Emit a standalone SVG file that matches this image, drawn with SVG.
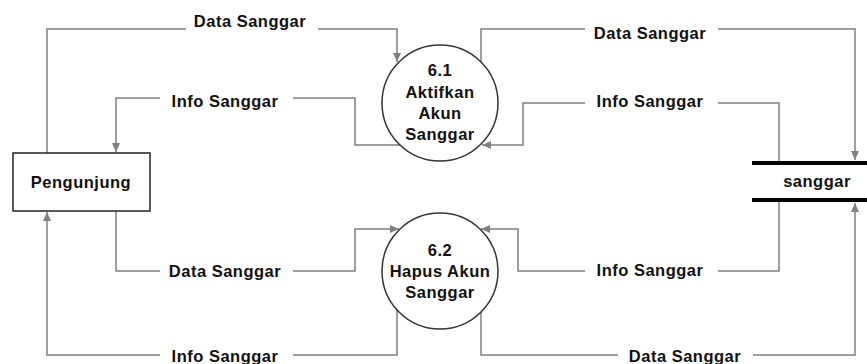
<svg xmlns="http://www.w3.org/2000/svg" width="867" height="364" viewBox="0 0 867 364">
<style>
.flow{fill:none;stroke:#808080;stroke-width:1.5;marker-end:url(#arr)}
.lbl{font-family:"Liberation Sans",Arial,sans-serif;font-weight:bold;font-size:16.5px;letter-spacing:0.5px;fill:#111;text-anchor:middle}
.proc{fill:#fff;stroke:#333;stroke-width:1.5}
</style>
<defs>
<marker id="arr" markerWidth="10" markerHeight="10" refX="9" refY="5" orient="auto" markerUnits="userSpaceOnUse">
<path d="M0,1 L9,5 L0,9 Z" fill="#808080"/>
</marker>
</defs>
<rect width="867" height="364" fill="#fff"/>
<g id="connectors">
<path class="flow" d="M47,153 V29 H186 M318,29 H397 V62"/>
<path class="flow" d="M400,145 H355 V98 H293 M160,98 H116 V152"/>
<path class="flow" d="M481,62 V29 H585 M718,29 H855 V160"/>
<path class="flow" d="M779,163 V103 H718 M585,103 H523 V145 H482"/>
<path class="flow" d="M116,211 V271 H160 M293,271 H355 V229 H399"/>
<path class="flow" d="M397,310 V355 H293 M160,355 H47 V212"/>
<path class="flow" d="M779,200 V271 H718 M585,271 H518 V229 H481"/>
<path class="flow" d="M481,312 V355 H618 M753,355 H855 V203"/>
<text class="lbl" x="250" y="27">Data Sanggar</text>
<text class="lbl" x="225" y="107">Info Sanggar</text>
<text class="lbl" x="650" y="39">Data Sanggar</text>
<text class="lbl" x="650" y="107">Info Sanggar</text>
<text class="lbl" x="225" y="277">Data Sanggar</text>
<text class="lbl" x="225" y="362">Info Sanggar</text>
<text class="lbl" x="650" y="276">Info Sanggar</text>
<text class="lbl" x="685" y="362">Data Sanggar</text>
</g>
<g id="pengunjung">
<rect x="13" y="153" width="137" height="58" fill="#fff" stroke="#222" stroke-width="1.5"/>
<text class="lbl" x="81" y="188">Pengunjung</text>
</g>
<g id="p61">
<circle class="proc" cx="440" cy="103" r="58"/>
<text class="lbl" x="440" y="76">6.1</text>
<text class="lbl" x="440" y="98">Aktifkan</text>
<text class="lbl" x="440" y="119">Akun</text>
<text class="lbl" x="440" y="140">Sanggar</text>
</g>
<g id="p62">
<circle class="proc" cx="440" cy="271" r="58"/>
<text class="lbl" x="440" y="256">6.2</text>
<text class="lbl" x="440" y="277">Hapus Akun</text>
<text class="lbl" x="440" y="298">Sanggar</text>
</g>
<g id="sanggar">
<line x1="752" y1="163" x2="867" y2="163" stroke="#000" stroke-width="4"/>
<line x1="752" y1="200" x2="867" y2="200" stroke="#000" stroke-width="4"/>
<text class="lbl" x="817" y="187">sanggar</text>
</g>
</svg>
